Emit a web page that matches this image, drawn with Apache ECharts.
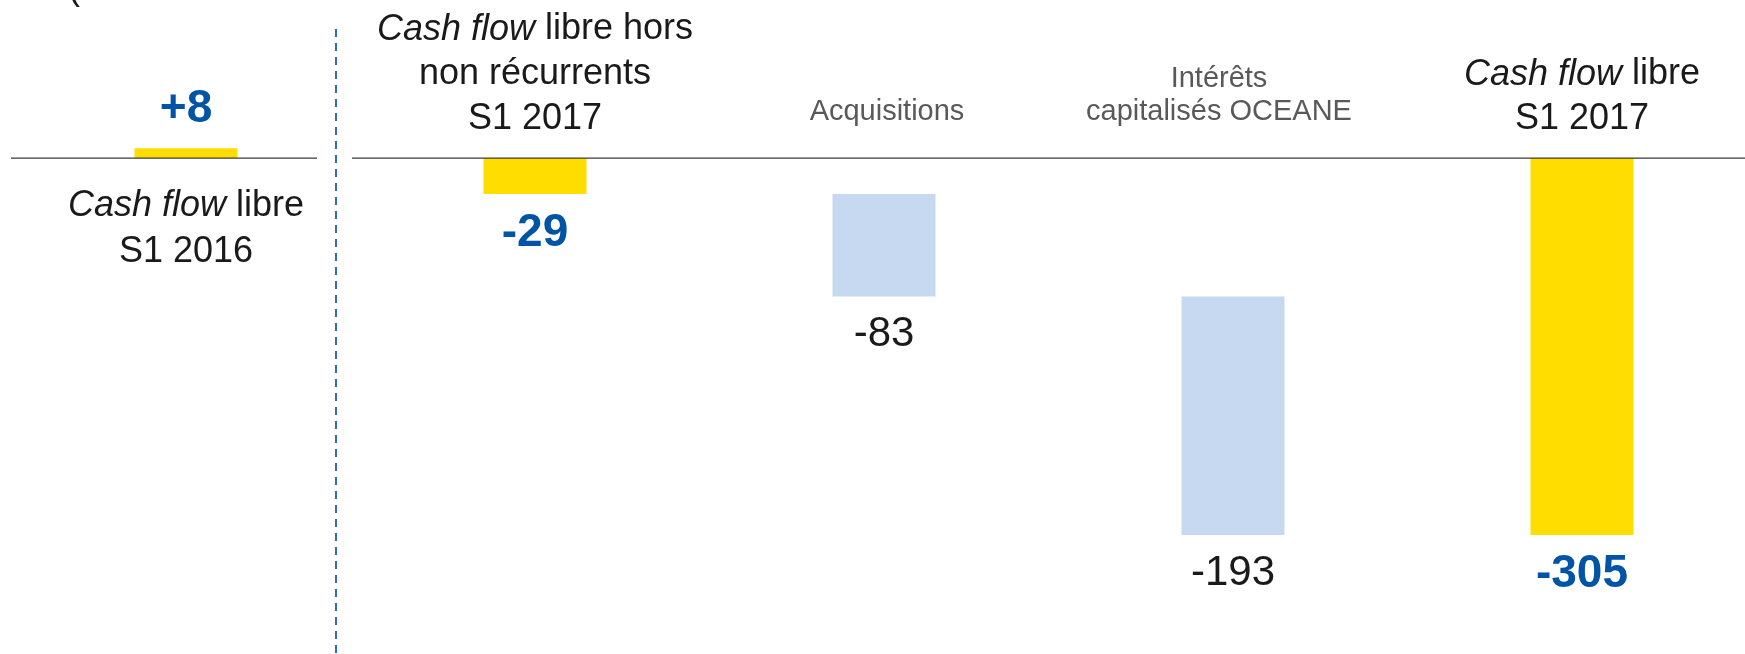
<!DOCTYPE html>
<html>
<head>
<meta charset="utf-8">
<style>
  html, body { margin: 0; padding: 0; background: #ffffff; }
  #chart { width: 1745px; height: 654px; }
</style>
<script src="https://cdn.jsdelivr.net/npm/echarts@6/dist/echarts.min.js"></script>
</head>
<body>
<div id="chart"></div>
<script>
// ---- data ----
const categories = [
  'Cash flow libre\nS1 2016',
  'Cash flow libre hors\nnon récurrents\nS1 2017',
  'Acquisitions',
  'Intérêts\ncapitalisés OCEANE',
  'Cash flow libre\nS1 2017'
];
const values = [8, -29, -83, -193, -305];
const isTotal = [true, true, false, false, true];

// ---- waterfall bases (derived from values) ----
const bases = [];
let run = 0;
values.forEach((v, i) => {
  if (isTotal[i]) { bases.push(0); run = v; }
  else { bases.push(run); run += v; }
});

const YELLOW = '#FFDD00';
const LIGHTBLUE = '#C6D9F0';
const VALBLUE = '#0054A6';
const BLACK = '#1a1a1a';
const GRAY = '#595959';
const SANS = "'Liberation Sans', Arial, sans-serif";
const CLEAR = 'rgba(0,0,0,0)';

const GRID_TOP = 108.6;
const GRID_H = 494.4;

function richLabel(val, idx) {
  const lines = val.split('\n');
  if (isTotal[idx]) {
    return lines.map((line) => {
      if (line.indexOf('Cash flow') === 0) {
        return '{it|Cash flow}{n|' + line.slice('Cash flow'.length) + '}';
      }
      return '{n|' + line + '}';
    }).join('\n');
  }
  const st = lines.length > 1 ? 'g2' : 'g';
  return lines.map((line) => '{' + st + '|' + line + '}').join('\n') + '\n{sp| }';
}

const chart = echarts.init(document.getElementById('chart'), null, { renderer: 'canvas' });

const yAxisBase = { type: 'value', min: -360, max: 40, axisLine: { show: false }, axisTick: { show: false }, axisLabel: { show: false }, splitLine: { show: false } };

const option = {
  animation: false,
  backgroundColor: '#ffffff',
  title: {
    text: '(',
    left: 63,
    top: -34,
    textStyle: { fontFamily: SANS, fontSize: 36, fontWeight: 'normal', color: BLACK, lineHeight: 36 }
  },
  grid: { left: 11.5, width: 1745, top: GRID_TOP, height: GRID_H, containLabel: false, outerBoundsMode: 'none' },
  xAxis: [
    {
      type: 'category',
      data: categories,
      position: 'top',
      axisLine: { show: false, onZero: false },
      axisTick: { show: false },
      axisLabel: {
        interval: 0,
        margin: 16,
        formatter: (val, idx) => idx === 0 ? '' : richLabel(val, idx),
        rich: {
          it: { fontFamily: SANS, fontStyle: 'italic', fontSize: 36, color: BLACK, lineHeight: 45 },
          n: { fontFamily: SANS, fontSize: 36, color: BLACK, lineHeight: 45 },
          g: { fontFamily: SANS, fontSize: 29, color: GRAY, lineHeight: 33, padding: [0, 0, 0, 6] },
          g2: { fontFamily: SANS, fontSize: 29, color: GRAY, lineHeight: 33, padding: [0, 28, 0, 0] },
          sp: { fontSize: 8, lineHeight: 14 }
        }
      }
    },
    {
      type: 'category',
      data: categories,
      position: 'bottom',
      axisLine: { show: false, onZero: false },
      axisTick: { show: false },
      axisLabel: {
        interval: 0,
        margin: 25,
        formatter: (val, idx) => idx === 0 ? richLabel(val, idx) : '',
        rich: {
          it: { fontFamily: SANS, fontStyle: 'italic', fontSize: 36, color: BLACK, lineHeight: 46 },
          n: { fontFamily: SANS, fontSize: 36, color: BLACK, lineHeight: 46 }
        }
      }
    }
  ],
  yAxis: [ yAxisBase ],
  series: [
    {
      name: 'base',
      type: 'bar',
      stack: 'w',
      barWidth: 103,
      silent: true,
      itemStyle: { color: CLEAR },
      data: bases
    },
    {
      name: 'valeur',
      type: 'bar',
      stack: 'w',
      barWidth: 103,
      data: values.map((v, i) => ({
        value: v,
        itemStyle: { color: isTotal[i] ? YELLOW : LIGHTBLUE },
        label: {
          show: true,
          position: v >= 0 ? 'top' : 'bottom',
          distance: isTotal[i] ? 16 : 17,
          fontFamily: SANS,
          fontSize: isTotal[i] ? 46 : 42,
          lineHeight: isTotal[i] ? 46 : 42,
          fontWeight: isTotal[i] ? 'bold' : 'normal',
          color: isTotal[i] ? VALBLUE : BLACK,
          formatter: (p) => (p.value > 0 ? '+' : '') + p.value
        }
      }))
    }
  ]
};

chart.setOption(option);

// place both category axes on the zero line of the value axis
const y0 = chart.convertToPixel({ yAxisIndex: 0 }, 0);
chart.setOption({
  xAxis: [
    { offset: -(y0 - GRID_TOP) },
    { offset: -(GRID_TOP + GRID_H - y0) }
  ],
  graphic: [
    { type: 'line', shape: { x1: 11, y1: y0, x2: 317, y2: y0 }, style: { stroke: '#3a3a3a', lineWidth: 1.2 }, z: 10 },
    { type: 'line', shape: { x1: 352, y1: y0, x2: 1745, y2: y0 }, style: { stroke: '#3a3a3a', lineWidth: 1.2 }, z: 10 },
    { type: 'line', shape: { x1: 336, y1: 29, x2: 336, y2: 654 }, style: { stroke: '#2E6DB5', lineWidth: 2, lineDash: [8, 6] }, z: 10 }
  ]
});
</script>
</body>
</html>
